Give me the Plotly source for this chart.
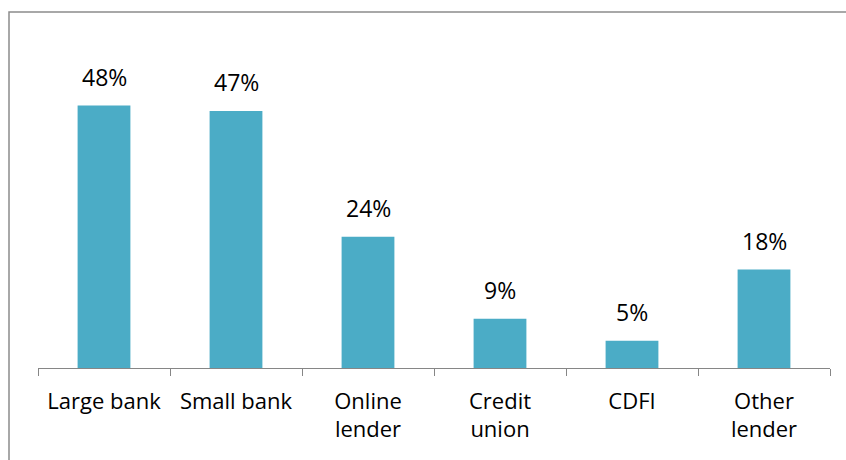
import plotly.graph_objects as go

categories = ["Large bank", "Small bank", "Online<br>lender", "Credit<br>union", "CDFI", "Other<br>lender"]
values = [48, 47, 24, 9, 5, 18]
labels = [f"{v}%" for v in values]

W, H = 846, 460
L, R, T, B = 38, 16, 40, 92
pw, ph = W - L - R, H - T - B

fig = go.Figure()
fig.add_trace(go.Bar(
    x=categories, y=values,
    marker=dict(color="#4BACC6", line=dict(width=0)),
    width=0.40,
    hoverinfo="skip",
))
for c, v, t in zip(categories, values, labels):
    fig.add_annotation(x=c, y=v, text=t, showarrow=False, yanchor="bottom", yshift=11,
                       font=dict(family="Open Sans", size=23, color="black"))

fig.add_shape(type="rect", xref="paper", yref="paper",
              x0=(9 - L) / pw, x1=(W + 10 - L) / pw,
              y0=-(H + 10 - T - ph) / ph, y1=(H - B - 12) / ph,
              line=dict(color="#8c8c8c", width=1.5), fillcolor="rgba(0,0,0,0)", layer="below")

fig.update_layout(
    width=W, height=H,
    margin=dict(l=L, r=R, t=T, b=B),
    paper_bgcolor="white", plot_bgcolor="white",
    showlegend=False,
    font=dict(family="Open Sans", size=22, color="black"),
    xaxis=dict(type="category", tickson="boundaries", ticks="outside", ticklen=7,
               tickcolor="#868686", showline=True, linecolor="#868686", linewidth=1.3,
               showgrid=False, tickfont=dict(size=22, color="black"), ticklabelstandoff=13),
    yaxis=dict(range=[0, 60], visible=False, showgrid=False),
)

fig.write_html("out.html")
